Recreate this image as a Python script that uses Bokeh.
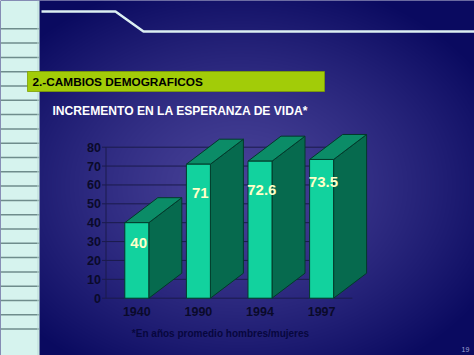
import numpy as np
from bokeh.plotting import figure
from bokeh.models import Range1d
from bokeh.core.properties import value
from bokeh.embed import file_html
from bokeh.resources import INLINE

# ---- data ----
years = ["1940", "1990", "1994", "1997"]
esperanza = [40, 71, 72.6, 73.5]
y_ticks = [0, 10, 20, 30, 40, 50, 60, 70, 80]
y_tick_labels = [str(t) for t in y_ticks]
titulo = "2.-CAMBIOS DEMOGRAFICOS"
subtitulo = "INCREMENTO EN LA ESPERANZA DE VIDA*"
nota = "*En años promedio hombres/mujeres"
pagina = "19"

# ---- layout (pixel geometry of the slide) ----
W, H = 474, 355
X0PX, XSTEP = 136.3, 61.6      # pixel x of first category, pixels per category
Y0PX, YSTEP = 297.7, 1.8875    # pixel y of value 0, pixels per unit

def dx(px):
    return (px - X0PX) / XSTEP

def dy(py):
    return (Y0PX - py) / YSTEP

FONT = value("Liberation Sans")

p = figure(width=W, height=H, x_range=Range1d(dx(0), dx(W)), y_range=Range1d(dy(H), dy(0)),
           output_backend="svg", toolbar_location=None, min_border=0,
           x_axis_type=None, y_axis_type=None)
p.outline_line_color = None
p.background_fill_color = "#1a1a70"
p.border_fill_color = "#1a1a70"

# ---- background gradient ----
yy, xx = np.mgrid[0:H, 0:W]
r = np.sqrt(((xx - 240) / 285.0) ** 2 + ((yy - 185) / 215.0) ** 2)
t = np.clip(r, 0, 1) ** 1.3
c_in = np.array([72, 66, 152], dtype=float)
c_out = np.array([10, 10, 96], dtype=float)
rgb = c_in[None, None, :] * (1 - t)[..., None] + c_out[None, None, :] * t[..., None]
img = np.empty((H, W), dtype=np.uint32)
view = img.view(dtype=np.uint8).reshape((H, W, 4))
view[..., 0] = rgb[..., 0].astype(np.uint8)
view[..., 1] = rgb[..., 1].astype(np.uint8)
view[..., 2] = rgb[..., 2].astype(np.uint8)
view[..., 3] = 255
img = np.ascontiguousarray(img[::-1])
p.image_rgba(image=[img], x=dx(0), y=dy(H), dw=dx(W) - dx(0), dh=dy(0) - dy(H))

# ---- left notebook strip ----
p.quad(left=dx(0), right=dx(39), bottom=dy(H), top=dy(0), fill_color="#D6F3EE", line_color=None)
strip_y = [dy(28.3 + 14.3 * k) for k in range(22)]
p.segment(x0=dx(0), x1=dx(39), y0=strip_y, y1=strip_y, line_color="#6F8C8C", line_width=1.5)
p.segment(x0=dx(37.5), x1=dx(37.5), y0=dy(0), y1=dy(H), line_color="#BBDAD6", line_width=1)

# ---- header line ----
p.line(x=[dx(41), dx(115), dx(143), dx(W)], y=[dy(11), dy(11), dy(31), dy(31)],
       line_color="#DCEFF2", line_width=2.5)

# ---- title box ----
p.quad(left=dx(27), right=dx(324), top=dy(71), bottom=dy(91), fill_color="#A2CC08",
       line_color="#7FA000", line_width=0.8)
p.text(x=[dx(32)], y=[dy(81.5)], text=[titulo], text_font=FONT, text_font_style="bold",
       text_font_size=value("11.8px"), text_color="#000000", text_align="left", text_baseline="middle")
p.text(x=[dx(52)], y=[dy(110.5)], text=[subtitulo], text_font=FONT, text_font_style="bold",
       text_font_size=value("12.1px"), text_color="#FFFFFF", text_align="left", text_baseline="middle")

# ---- chart: grid and axis ----
n = len(years)
xs = list(range(n))
p.segment(x0=-0.5, x1=n - 0.5, y0=y_ticks, y1=y_ticks, line_color="#1B1B4C", line_width=1)
p.segment(x0=-0.5, x1=-0.5, y0=y_ticks[0], y1=y_ticks[-1], line_color="#1B1B4C", line_width=1)
p.segment(x0=-0.5 - 4 / XSTEP, x1=-0.5, y0=y_ticks, y1=y_ticks, line_color="#1B1B4C", line_width=1)
p.text(x=[-0.5 - 5 / XSTEP] * len(y_ticks), y=y_ticks, text=y_tick_labels, text_font=FONT,
       text_font_style="bold", text_font_size=value("12.5px"), text_color="#0A0A2A",
       text_align="right", text_baseline="middle")
p.text(x=xs, y=[dy(311)] * n, text=years, text_font=FONT, text_font_style="bold",
       text_font_size=value("12.5px"), text_color="#0A0A2A", text_align="center", text_baseline="middle")

# ---- 3D bars ----
bw = 24 / XSTEP          # front face width
ddx = 33 / XSTEP         # depth offset x
ddy = 25 / YSTEP         # depth offset y
edge = "#033A2A"
side_xs, side_ys, top_xs, top_ys = [], [], [], []
for i, v in zip(xs, esperanza):
    l, rr = i - bw / 2, i + bw / 2
    side_xs.append([rr, rr + ddx, rr + ddx, rr])
    side_ys.append([0, ddy, v + ddy, v])
    top_xs.append([l, l + ddx, rr + ddx, rr])
    top_ys.append([v, v + ddy, v + ddy, v])
p.patches(xs=side_xs, ys=side_ys, fill_color="#066A4E", line_color=edge, line_width=1)
p.patches(xs=top_xs, ys=top_ys, fill_color="#0B8C67", line_color=edge, line_width=1)
p.quad(left=[i - bw / 2 for i in xs], right=[i + bw / 2 for i in xs], bottom=0, top=esperanza,
       fill_color="#12D29E", line_color=edge, line_width=1)

# value labels inside bars
label_drop = [10.5, 15, 15.2, 12]
p.text(x=[i + 0.03 for i in xs], y=[v - d for v, d in zip(esperanza, label_drop)],
       text=[("%g" % v) for v in esperanza], text_font=FONT, text_font_style="bold",
       text_font_size=value("15px"), text_color="#FFFFC8", text_align="center", text_baseline="middle")

# ---- footnote and page number ----
p.text(x=[dx(220)], y=[dy(333)], text=[nota], text_font=FONT, text_font_style="bold",
       text_font_size=value("10px"), text_color="#07073E", text_align="center", text_baseline="middle")
p.text(x=[dx(465)], y=[dy(349)], text=[pagina], text_font=FONT,
       text_font_size=value("7px"), text_color="#A0A0D4", text_align="center", text_baseline="middle")

open("out.html", "w").write(file_html(p, INLINE))
